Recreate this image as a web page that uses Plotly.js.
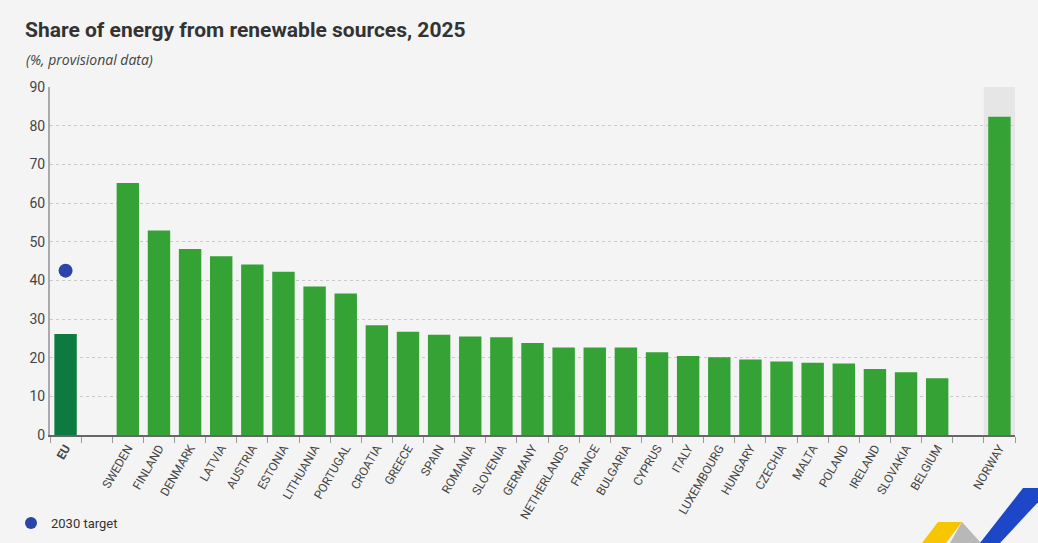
<!DOCTYPE html>
<html>
<head>
<meta charset="utf-8">
<script src="https://cdn.plot.ly/plotly-3.0.1.min.js"></script>
<style>
  html, body { margin: 0; padding: 0; background: #f4f4f4; }
  #chart { width: 1038px; height: 543px; }
</style>
</head>
<body>
<div id="chart"></div>
<script>
// ---- Data ----
const euLabel = "EU";
const euShare = 26.1;
const euTarget = 42.5;
const countries = ["SWEDEN","FINLAND","DENMARK","LATVIA","AUSTRIA","ESTONIA","LITHUANIA","PORTUGAL","CROATIA","GREECE","SPAIN","ROMANIA","SLOVENIA","GERMANY","NETHERLANDS","FRANCE","BULGARIA","CYPRUS","ITALY","LUXEMBOURG","HUNGARY","CZECHIA","MALTA","POLAND","IRELAND","SLOVAKIA","BELGIUM"];
const countryShares = [65.2,52.9,48.1,46.2,44.1,42.2,38.4,36.6,28.4,26.7,25.9,25.5,25.3,23.8,22.6,22.6,22.6,21.4,20.4,20.1,19.5,19.0,18.7,18.5,17.1,16.2,14.7];
const otherLabel = "NORWAY";
const otherShare = 82.3;
const targetName = "2030 target";

// ---- Build categories ----
const gap1 = " ", gap2 = "  ";
const euCat = "<b>" + euLabel + "</b>";
const cats = [euCat, gap1].concat(countries, [gap2, otherLabel]);
const greenX = countries.concat([otherLabel]);
const greenY = countryShares.concat([otherShare]);

const FONT = "Roboto, Liberation Sans, sans-serif";

const traces = [
  {
    type: 'bar', x: [euCat], y: [euShare],
    marker: { color: '#0d7a40' }, showlegend: false, hoverinfo: 'x+y'
  },
  {
    type: 'bar', x: greenX, y: greenY,
    marker: { color: '#34a234' }, showlegend: false, hoverinfo: 'x+y'
  },
  {
    type: 'scatter', mode: 'markers', x: [euCat], y: [euTarget], name: targetName,
    marker: { color: '#2a44a8', size: 14 }, showlegend: true
  }
];

function px(x) { return (x - 50) / 965; }
function py(y) { return (435 - y) / 348; }
function poly(pts) {
  return pts.map((p, i) => (i ? 'L ' : 'M ') + px(p[0]).toFixed(4) + ' ' + py(p[1]).toFixed(4)).join(' ') + ' Z';
}

const layout = {
  width: 1038, height: 543,
  paper_bgcolor: '#f4f4f4', plot_bgcolor: '#f4f4f4',
  margin: { l: 50, r: 23, t: 87, b: 108 },
  bargap: 0.28,
  barmode: 'overlay',
  font: { family: FONT, color: '#444' },
  title: {
    text: '<b>Share of energy from renewable sources, 2025</b>',
    x: 25 / 1038, xanchor: 'left', xref: 'container',
    y: 1 - 30 / 543, yanchor: 'middle', yref: 'container',
    font: { family: FONT, size: 21, color: '#333' }
  },
  annotations: [{
    text: '<i>(%, provisional data)</i>',
    xref: 'paper', yref: 'paper',
    x: px(24), y: py(60), xanchor: 'left', yanchor: 'middle',
    showarrow: false,
    font: { family: "Open Sans, DejaVu Sans, sans-serif", size: 14, color: '#444' }
  }],
  xaxis: {
    type: 'category',
    categoryorder: 'array', categoryarray: cats,
    range: [-0.5, cats.length - 0.5],
    tickson: 'boundaries',
    ticks: 'outside', ticklen: 6, tickcolor: '#999', tickwidth: 1,
    showline: true, linecolor: '#666', linewidth: 1.5,
    showgrid: false,
    tickangle: -60,
    tickfont: { family: FONT, size: 12, color: '#444' },
    fixedrange: true
  },
  yaxis: {
    range: [0, 90], dtick: 10,
    showgrid: true, gridcolor: '#c9c9c9', griddash: 'dot', gridwidth: 1,
    zeroline: false,
    showline: true, linecolor: '#aaaaaa', linewidth: 2,
    ticks: '',
    tickfont: { family: FONT, size: 14, color: '#444' },
    fixedrange: true
  },
  showlegend: true,
  legend: {
    xref: 'container', yref: 'container',
    x: 11 / 1038, y: 1 - 523 / 543, xanchor: 'left', yanchor: 'middle',
    orientation: 'h', bgcolor: 'rgba(0,0,0,0)',
    font: { family: FONT, size: 13, color: '#333' },
    itemsizing: 'constant'
  },
  shapes: [
    {
      type: 'rect', xref: 'x', yref: 'paper',
      x0: cats.length - 1.5, x1: cats.length - 0.5, y0: 0, y1: 1,
      fillcolor: '#e6e6e6', line: { width: 0 }, layer: 'below'
    },
    {
      type: 'path', xref: 'paper', yref: 'paper',
      path: poly([[922,543],[938,522],[962,522],[946,543]]),
      fillcolor: '#f7c600', line: { width: 0 }
    },
    {
      type: 'path', xref: 'paper', yref: 'paper',
      path: poly([[962,522],[981,543],[950,543]]),
      fillcolor: '#b8b8b8', line: { width: 0 }
    },
    {
      type: 'path', xref: 'paper', yref: 'paper',
      path: poly([[980,543],[1023,488],[1040,488],[1040,500],[1000,543]]),
      fillcolor: '#1e46c8', line: { width: 0 }
    }
  ]
};

Plotly.newPlot('chart', traces, layout, { displayModeBar: false, staticPlot: true });
</script>
</body>
</html>
